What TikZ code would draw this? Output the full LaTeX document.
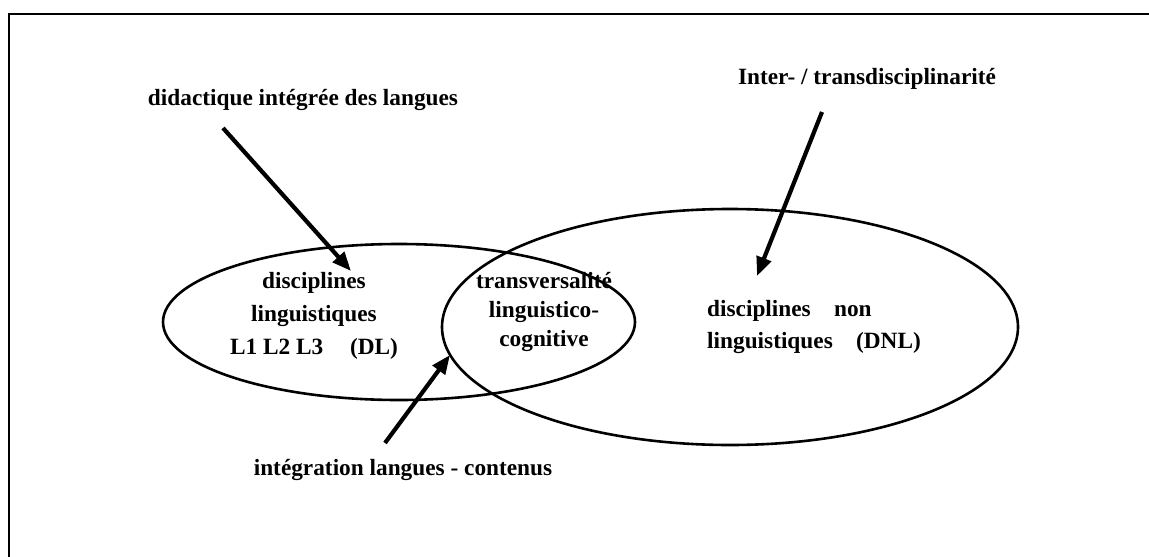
\documentclass[tikz,border=0pt]{standalone}
\usepackage{fontspec}
\setmainfont{Liberation Serif}
\usetikzlibrary{arrows.meta,shapes.geometric}
\begin{document}
\begin{tikzpicture}[x=1pt,y=-1pt,
  lbl/.style={font=\fontsize{23.3}{28}\selectfont\bfseries, inner sep=0pt},
  zone/.style={draw, ellipse, line width=2.6pt, inner sep=0pt},
  pointer/.style={line width=4.2pt, -{Triangle[length=19pt,width=15pt]}},
  frame/.style={line width=2.8pt}]
\useasboundingbox (0,0) rectangle (1149,557);
% frame (top and left edges visible)
\coordinate (fbl) at (9,557);
\coordinate (ftl) at (9,14);
\coordinate (ftr) at (1149,14);
\draw[frame] (fbl) -- (ftl) -- (ftr);
% ellipses
\node[zone, minimum width=472pt, minimum height=156pt] (dl) at (399,322) {};
\node[zone, minimum width=576pt, minimum height=236pt] (dnl) at (730,327) {};
% texts
\node[lbl, align=center, font=\fontsize{23.3}{33}\selectfont\bfseries] (tdl) at (314,316)
  {disciplines\\linguistiques\\L1 L2 L3\hspace{0.9em} (DL)};
\node[lbl, align=center, font=\fontsize{23.3}{29}\selectfont\bfseries] (ttr) at (544,312)
  {transversalité\\linguistico-\\cognitive};
\node[lbl, align=left, anchor=west, font=\fontsize{23.3}{32}\selectfont\bfseries] (tdnl) at (707,327)
  {disciplines\hspace{0.75em} non\\linguistiques\hspace{0.75em} (DNL)};
\node[lbl] (tdid) at (303,100) {didactique intégrée des langues};
\node[lbl] (tint) at (867,79) {Inter- / transdisciplinarité};
\node[lbl] (tlc) at (403,470) {intégration langues - contenus};
% arrows
\coordinate (a1s) at (223,128);
\coordinate (a1e) at (351,271);
\coordinate (a2s) at (822,112);
\coordinate (a2e) at (757,276);
\coordinate (a3s) at (385,443);
\coordinate (a3e) at (450,355);
\draw[pointer] (a1s) -- (a1e);
\draw[pointer] (a2s) -- (a2e);
\draw[pointer] (a3s) -- (a3e);
\end{tikzpicture}
\end{document}
